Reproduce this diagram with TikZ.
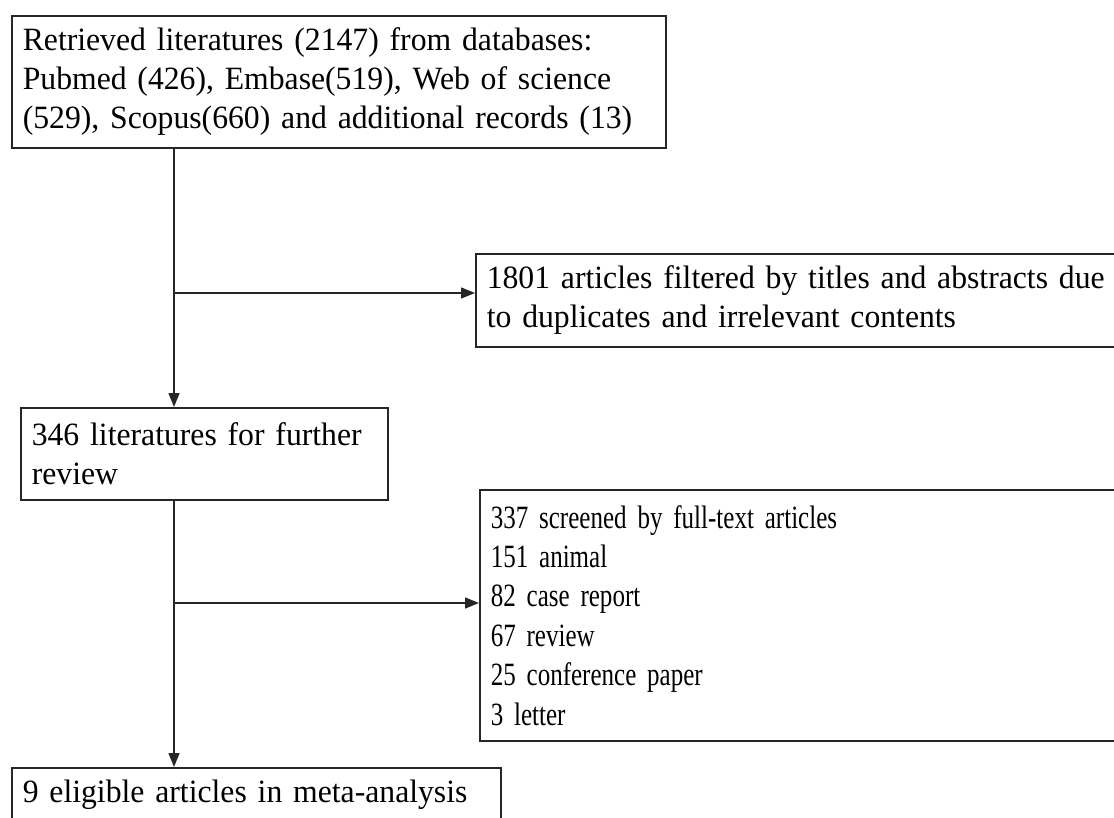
\documentclass[tikz,border=0pt]{standalone}
\usepackage{fontspec}
\setmainfont{Liberation Serif}[FakeStretch=0.975]
\newfontfamily\narrowfont{Liberation Serif}[FakeStretch=0.77]
\newcommand{\mainboxfont}{\fontsize{32.5}{39}\selectfont}
\newcommand{\narrowboxfont}{\narrowfont\fontsize{32.5}{39.4}\selectfont}
\usetikzlibrary{arrows.meta}
\begin{document}
\begin{tikzpicture}[x=1pt,y=-1pt,
  box/.style={draw=black!85, line width=1.6pt, anchor=north west, inner xsep=11pt, inner ysep=0pt, align=left,
    font=\mainboxfont},
  arr/.style={draw=black!85, line width=1.4pt, -{Triangle[length=14pt,width=11pt]}},
  link/.style={draw=black!85, line width=1.4pt}]
\useasboundingbox (0,0) rectangle (1114,817);
\clip (0,0) rectangle (1114,817);
\node[box, minimum width=654pt, minimum height=132pt, text width=632pt] (b1) at (11,15)
  {Retrieved literatures (2147) from databases:\\ Pubmed (426), Embase(519), Web of science\\ (529), Scopus(660) and additional records (13)};
\node[box, minimum width=680pt, minimum height=93pt, text width=658pt] (b2) at (475,253)
  {1801 articles filtered by titles and abstracts due\\ to duplicates and irrelevant contents};
\node[box, minimum width=367pt, minimum height=92pt, text width=345pt] (b3) at (20,407)
  {346 literatures for further\\ review};
\node[box, minimum width=680pt, minimum height=251pt, text width=658pt,
  font=\narrowboxfont] (b4) at (479,489)
  {337 screened by full-text articles\\ 151 animal\\ 82 case report\\ 67 review\\ 25 conference paper\\ 3 letter};
\node[box, minimum width=489pt, minimum height=54pt, text width=467pt] (b5) at (11,767)
  {9 eligible articles in meta-analysis};
\coordinate (j1) at (174,293);
\coordinate (j2) at (174,603);
\draw[link] (b1.south -| j1) -- (j1);
\draw[arr] (j1) -- (b3.north -| j1);
\draw[arr] (j1) -- (j1 -| b2.west);
\draw[link] (b3.south -| j1) -- (j2);
\draw[arr] (j2) -- (b5.north -| j1);
\draw[arr] (j2) -- (j2 -| b4.west);
\end{tikzpicture}
\end{document}
